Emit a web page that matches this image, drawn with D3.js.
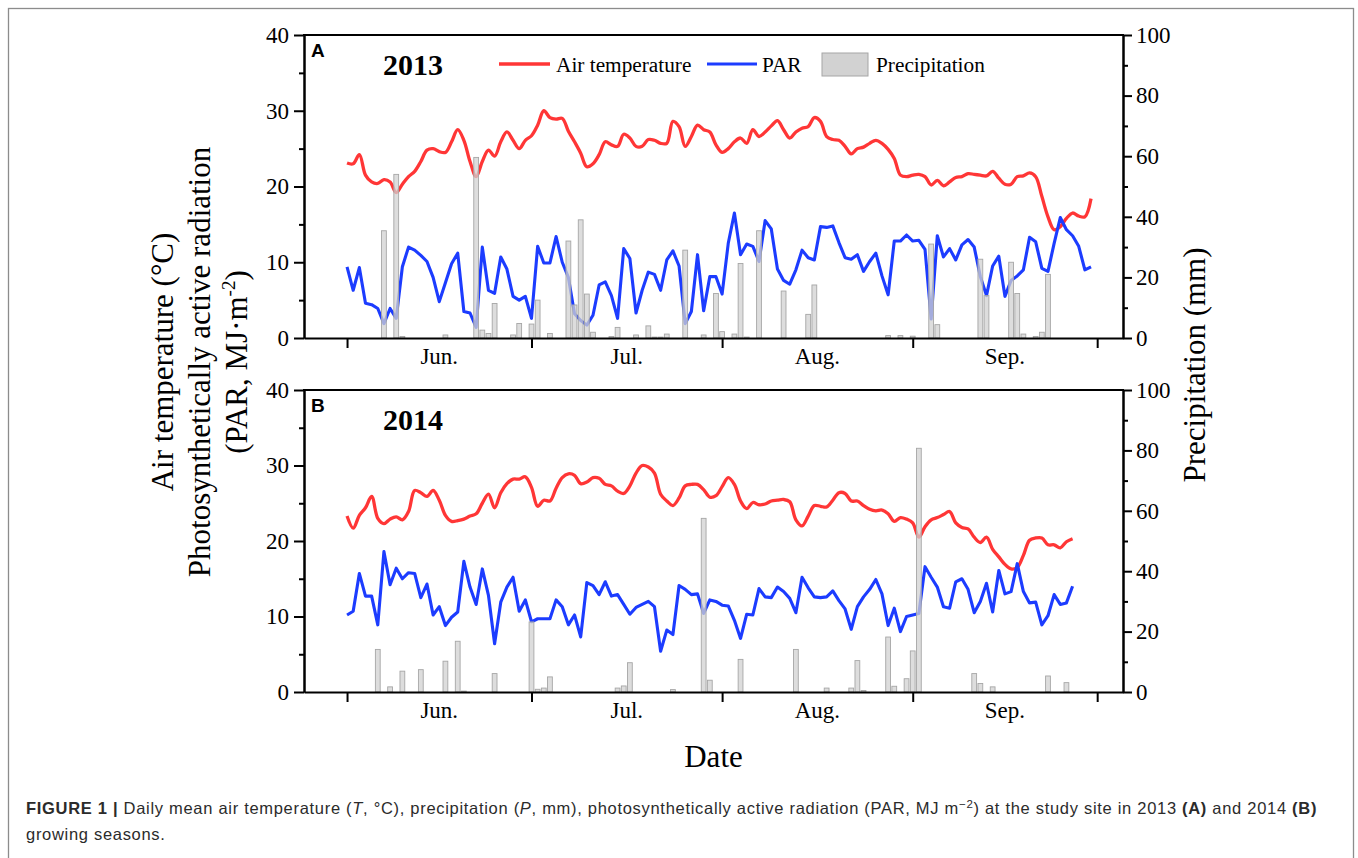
<!DOCTYPE html>
<html><head><meta charset="utf-8">
<script src="https://cdn.jsdelivr.net/npm/d3@7"></script>
<style>body{margin:0;background:#fff}svg{display:block}</style>
</head><body>
<svg id="chart" width="1358" height="858"></svg>
<script>
// ---- data ----
const monthLabels = ["Jun.", "Jul.", "Aug.", "Sep."];
const monthStartDOY = [152, 182, 213, 244, 274];
const startDOY = 152; // June 1
const tempTicks = [0, 10, 20, 30, 40];
const tempMinorTicks = [5, 15, 25, 35];
const precipTicks = [0, 20, 40, 60, 80, 100];
const precipMinorTicks = [10, 30, 50, 70, 90];

const temp2013 = [23.1,23.0,24.2,21.5,20.6,20.4,20.9,20.6,19.2,20.3,21.3,22.0,23.3,24.8,25.0,24.6,24.5,25.9,27.5,26.1,
23.3,21.3,23.3,24.8,24.0,25.9,27.2,26.1,25.0,26.1,26.7,28.1,30.0,29.1,28.9,29.0,27.3,25.9,24.4,22.6,
23.0,24.2,25.9,25.5,25.3,26.9,26.4,25.3,25.3,26.2,26.1,25.7,25.7,28.6,27.9,25.3,26.6,28.1,27.5,27.2,
25.5,24.5,25.0,25.9,26.4,25.7,27.5,26.6,27.2,28.0,28.7,27.5,26.4,27.2,27.7,27.9,29.1,28.6,26.6,26.2,
26.1,25.3,24.3,25.0,25.2,25.7,26.1,25.7,24.9,23.7,21.5,21.3,21.5,21.6,21.3,20.2,20.8,20.1,20.6,21.2,
21.3,21.7,21.6,21.5,21.4,22.0,21.1,20.3,20.3,21.3,21.4,21.8,21.3,18.7,16.0,14.3,14.7,15.8,16.5,16.1,
16.0,18.4];
const par2013 = [9.4,6.3,9.3,4.6,4.4,3.9,1.9,3.9,2.6,9.4,12.0,11.6,10.9,10.1,8.0,4.8,7.3,9.8,11.2,3.5,
3.3,1.4,12.0,6.3,5.9,10.7,9.1,5.5,5.0,5.5,2.6,12.1,9.9,9.9,13.4,10.0,8.0,3.2,2.3,1.7,
3.0,7.0,7.4,5.6,2.6,11.8,10.5,3.3,6.3,8.7,8.4,6.3,10.3,11.5,9.5,1.9,3.5,11.0,3.6,8.1,
8.1,5.8,12.5,16.5,11.0,12.4,12.1,10.1,15.5,14.4,9.1,7.6,7.1,9.0,11.6,10.6,10.3,14.7,14.6,14.8,
12.6,10.6,10.4,11.0,8.8,10.1,11.2,8.2,5.7,12.8,12.8,13.6,12.8,12.9,11.7,2.5,13.5,10.7,11.8,10.3,
12.3,13.0,12.0,8.1,5.6,9.5,10.8,5.5,7.6,8.2,9.0,13.3,12.7,9.2,8.8,12.5,15.9,14.3,13.5,12.1,
9.0,9.4];
const rainDays2013 = [6,8,9,16,21,22,23,24,27,28,30,31,33,36,37,38,39,40,43,44,47,49,50,51,52,55,58,60,61,63,64,65,67,71,75,76,88,90,92,95,96,103,104,108,109,110,112,113,114];
const rainMm2013 = [35.4,54,0.5,1.0,59.6,2.6,1.5,11.4,1.0,4.8,4.6,12.5,1.5,32,10.9,39,14.5,1.9,0.5,3.5,1.0,4.0,0.3,0.3,1.3,29,1.0,14.7,2.1,1.3,24.6,0.3,35.4,15.5,7.8,17.5,0.8,0.8,0.6,31,4.4,26,14,25,14.7,1.3,0.5,1.9,21];

const temp2014 = [23.3,21.7,23.4,24.4,25.9,23.0,22.3,22.9,23.2,22.8,23.9,26.7,26.4,25.9,26.7,25.4,23.4,22.6,22.7,22.9,
23.3,23.6,25.0,26.2,24.4,26.4,27.6,28.2,28.2,28.5,27.1,24.6,25.4,25.3,27.0,28.4,28.9,28.7,27.6,27.8,
28.4,28.3,27.5,27.3,26.6,26.3,27.3,29.0,30.0,29.8,29.0,26.2,25.3,24.7,25.7,27.3,27.5,27.5,26.8,25.8,
26.0,27.2,28.4,27.5,25.3,24.3,25.1,24.8,24.9,25.3,25.4,25.5,25.2,22.8,22.0,23.3,24.7,24.6,24.5,25.4,
26.4,26.3,25.3,25.3,24.7,24.2,24.0,24.1,23.6,22.6,23.1,22.9,22.4,20.5,21.9,22.8,23.1,23.5,23.9,22.4,
21.8,21.6,20.5,19.8,20.5,18.9,17.9,16.9,16.3,16.5,18.1,20.1,20.4,20.4,19.5,19.5,19.1,19.9,20.3];
const par2014 = [10.2,10.7,15.7,12.7,12.7,8.9,18.6,14.2,16.4,15.0,15.8,15.7,12.5,14.3,10.2,11.3,8.8,9.9,10.6,17.3,
13.9,11.6,16.3,12.8,6.4,11.9,13.9,15.2,10.7,12.2,9.3,9.7,9.7,9.7,12.2,11.3,8.9,10.2,7.3,14.5,
14.1,12.9,14.6,12.7,12.9,11.6,10.3,11.2,11.6,12.0,11.3,5.4,8.2,7.6,14.1,13.6,12.9,13.0,10.4,12.2,
12.0,11.5,11.4,9.5,7.1,10.3,10.2,13.7,12.6,12.5,13.9,13.3,12.4,10.5,15.2,13.8,12.6,12.5,12.6,13.4,
12.1,11.0,8.3,11.3,12.6,13.6,14.9,13.0,8.8,11.1,8.0,10.0,10.2,10.4,16.6,15.2,13.9,11.3,11.1,14.6,
15.0,13.6,10.5,12.0,14.4,10.6,16.1,13.0,13.3,17.0,13.3,11.8,11.9,8.9,10.1,12.9,11.6,11.8,14.0];
const rainDays2014 = [5,7,9,12,16,18,19,24,30,31,32,33,44,45,46,53,58,59,64,73,78,82,83,84,88,89,91,92,93,102,103,105,114,117];
const rainMm2014 = [14.1,1.7,6.9,7.4,10.2,16.8,0.3,6.1,23.2,0.9,1.3,5.0,1.3,2.0,9.7,0.8,57.5,3.9,10.8,14.1,1.3,1.3,10.4,0.5,18.2,1.9,4.4,13.6,80.7,6.1,2.8,1.7,5.3,3.1];

// ---- drawing ----
const svg = d3.select("#chart");
const SERIF = "'Liberation Serif','Times New Roman',serif";
const SANS = "'Liberation Sans',Arial,sans-serif";
const RED = "#ff3636", BLUE = "#1c3cff";

svg.append("rect").attr("x", 8.5).attr("y", 8.5).attr("width", 1345).attr("height", 900)
  .attr("fill", "none").attr("stroke", "#8c8c8c").attr("stroke-width", 1.3);

const left = 304, right = 1123;
const x = d3.scaleLinear().domain([145, 278.2]).range([left, right]);

function panel(cfg) {
  const g = svg.append("g");
  const yT = d3.scaleLinear().domain([0, 40]).range([cfg.bottom, cfg.top]);
  const yP = d3.scaleLinear().domain([0, 100]).range([cfg.bottom, cfg.top]);

  // lines
  const tLine = d3.line().x((d, i) => x(startDOY + i)).y(d => yT(d)).curve(d3.curveCatmullRom.alpha(0.5));
  const pLine = d3.line().x((d, i) => x(startDOY + i)).y(d => yT(d));
  g.append("path").datum(cfg.temp).attr("d", tLine).attr("fill", "none")
    .attr("stroke", RED).attr("stroke-width", 3.3).attr("stroke-linejoin", "round");
  g.append("path").datum(cfg.par).attr("d", pLine).attr("fill", "none")
    .attr("stroke", BLUE).attr("stroke-width", 3.1).attr("stroke-linejoin", "round");

  // bars
  const bw = 4.8;
  g.selectAll("rect.bar").data(cfg.rainDays).join("rect").attr("class", "bar")
    .attr("x", d => x(startDOY + d) - bw / 2)
    .attr("width", bw)
    .attr("y", (d, i) => yP(cfg.rainMm[i]))
    .attr("height", (d, i) => yP(0) - yP(cfg.rainMm[i]))
    .attr("fill", "#d2d2d2").attr("fill-opacity", 0.75)
    .attr("stroke", "#a6a6a6").attr("stroke-width", 0.9);

  // axes
  const styleAxis = sel => {
    sel.selectAll("path,line").attr("stroke", "#000").attr("stroke-width", 2);
    sel.selectAll("text").attr("font-family", SERIF).attr("font-size", 23).attr("fill", "#000");
  };
  g.append("g").attr("transform", `translate(${left},0)`)
    .call(d3.axisLeft(yT).tickValues(tempTicks).tickSize(10).tickSizeOuter(0).tickPadding(5))
    .call(styleAxis);
  g.append("g").attr("transform", `translate(${left},0)`)
    .call(d3.axisLeft(yT).tickValues(tempMinorTicks).tickSize(5).tickSizeOuter(0).tickFormat(""))
    .call(styleAxis);
  g.append("g").attr("transform", `translate(${right},0)`)
    .call(d3.axisRight(yP).tickValues(precipTicks).tickSize(9).tickSizeOuter(0).tickPadding(4))
    .call(styleAxis);
  g.append("g").attr("transform", `translate(${right},0)`)
    .call(d3.axisRight(yP).tickValues(precipMinorTicks).tickSize(5).tickSizeOuter(0).tickFormat(""))
    .call(styleAxis);
  g.append("g").attr("transform", `translate(0,${cfg.bottom})`)
    .call(d3.axisBottom(x).tickValues(monthStartDOY).tickSize(10).tickSizeOuter(0).tickFormat(""))
    .call(styleAxis);
  g.append("line").attr("x1", left - 1).attr("x2", right + 1).attr("y1", cfg.top).attr("y2", cfg.top)
    .attr("stroke", "#000").attr("stroke-width", 2);

  // month labels
  g.selectAll("text.month").data(monthLabels).join("text").attr("class", "month")
    .attr("x", (d, i) => x((monthStartDOY[i] + monthStartDOY[i + 1]) / 2))
    .attr("y", cfg.bottom + 26)
    .attr("text-anchor", "middle").attr("font-family", SERIF).attr("font-size", 23).text(d => d);

  // panel letter & year
  g.append("text").attr("x", 311).attr("y", cfg.top + 22).attr("font-family", SANS)
    .attr("font-weight", "bold").attr("font-size", 19).text(cfg.letter);
  g.append("text").attr("x", 383).attr("y", cfg.top + 40).attr("font-family", SERIF)
    .attr("font-weight", "bold").attr("font-size", 30).text(cfg.year);

  if (cfg.legend) {
    const ly = cfg.top + 29;
    g.append("line").attr("x1", 499).attr("x2", 550).attr("y1", ly).attr("y2", ly)
      .attr("stroke", RED).attr("stroke-width", 3.3);
    g.append("text").attr("x", 556).attr("y", ly + 8).attr("font-family", SERIF).attr("font-size", 21.3).text("Air temperature");
    g.append("line").attr("x1", 707).attr("x2", 757).attr("y1", ly).attr("y2", ly)
      .attr("stroke", BLUE).attr("stroke-width", 3.1);
    g.append("text").attr("x", 762).attr("y", ly + 8).attr("font-family", SERIF).attr("font-size", 21.3).text("PAR");
    g.append("rect").attr("x", 822).attr("y", ly - 11).attr("width", 46).attr("height", 23)
      .attr("fill", "#d2d2d2").attr("stroke", "#a6a6a6").attr("stroke-width", 1);
    g.append("text").attr("x", 876).attr("y", ly + 8).attr("font-family", SERIF).attr("font-size", 21.3).text("Precipitation");
  }
}

panel({top: 35, bottom: 338, temp: temp2013, par: par2013, rainDays: rainDays2013, rainMm: rainMm2013, letter: "A", year: "2013", legend: true});
panel({top: 390, bottom: 692, temp: temp2014, par: par2014, rainDays: rainDays2014, rainMm: rainMm2014, letter: "B", year: "2014", legend: false});

// axis titles
const leftTitles = ["Air temperature (°C)", "Photosynthetically active radiation"];
const tcy = 362;
leftTitles.forEach((t, i) => {
  svg.append("text").attr("transform", `translate(${173 + i * 37},${tcy}) rotate(-90)`)
    .attr("text-anchor", "middle").attr("font-family", SERIF).attr("font-size", 31).text(t);
});
const t3 = svg.append("text").attr("transform", `translate(247,${tcy}) rotate(-90)`)
  .attr("text-anchor", "middle").attr("font-family", SERIF).attr("font-size", 31);
t3.append("tspan").text("(PAR, MJ·m");
t3.append("tspan").attr("dy", -12).attr("font-size", 19).text("-2");
t3.append("tspan").attr("dy", 12).text(")");

svg.append("text").attr("transform", `translate(1205,365) rotate(-90)`)
  .attr("text-anchor", "middle").attr("font-family", SERIF).attr("font-size", 31).text("Precipitation (mm)");

svg.append("text").attr("x", (left + right) / 2).attr("y", 767).attr("text-anchor", "middle")
  .attr("font-family", SERIF).attr("font-size", 31).text("Date");

// caption
const capStyle = sel => sel.attr("font-family", SANS).attr("font-size", 16.5)
  .attr("letter-spacing", 0.7).attr("fill", "#2b2b2b");
const cap = svg.append("text").attr("x", 26).attr("y", 814).call(capStyle);
cap.append("tspan").attr("font-weight", "bold").text("FIGURE 1 | ");
cap.append("tspan").text("Daily mean air temperature (");
cap.append("tspan").attr("font-style", "italic").text("T");
cap.append("tspan").text(", °C), precipitation (");
cap.append("tspan").attr("font-style", "italic").text("P");
cap.append("tspan").text(", mm), photosynthetically active radiation (PAR, MJ m");
cap.append("tspan").attr("dy", -6).attr("font-size", 11.5).text("−2");
cap.append("tspan").attr("dy", 6).text(") at the study site in 2013 ");
cap.append("tspan").attr("font-weight", "bold").text("(A)");
cap.append("tspan").text(" and 2014 ");
cap.append("tspan").attr("font-weight", "bold").text("(B)");
svg.append("text").attr("x", 26).attr("y", 840).call(capStyle).text("growing seasons.");
</script>
</body></html>
